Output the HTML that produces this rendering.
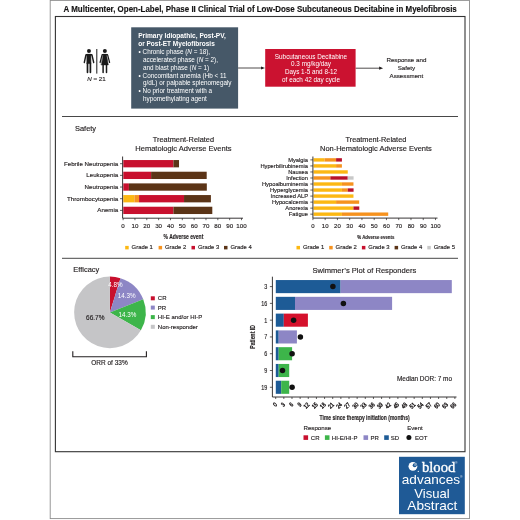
<!DOCTYPE html>
<html lang="en"><head><meta charset="utf-8"><title>Visual Abstract</title>
<style>
html,body{margin:0;padding:0;background:#fff;}
body{width:520px;height:520px;overflow:hidden;font-family:"Liberation Sans",sans-serif;}
svg{display:block;font-family:"Liberation Sans",sans-serif;fill:#231f20;}
.w{fill:#fff;stroke:none}
text{stroke:#231f20;stroke-width:.15px}
.c{text-anchor:middle}
.e{text-anchor:end}
.ser{font-family:"Liberation Serif",serif}
</style></head><body>
<svg width="520" height="520" viewBox="0 0 520 520">
<rect width="520" height="520" fill="#fff"/>

<rect x="50.2" y="0.4" width="419.3" height="518.2" fill="none" stroke="#8c8c8c" stroke-width="0.9"/>
<text x="63.6" y="12.0" font-size="8.5" textLength="393.2" lengthAdjust="spacingAndGlyphs" font-weight="bold" fill="#111">A Multicenter, Open-Label, Phase II Clinical Trial of Low-Dose Subcutaneous Decitabine in Myelofibrosis</text>
<rect x="55.400" y="16.500" width="409.600" height="435.200" fill="none" stroke="#333" stroke-width="1.100"/>
<line x1="62" y1="116.500" x2="458" y2="116.500" stroke="#333" stroke-width="0.900"/>
<line x1="62" y1="258.300" x2="458" y2="258.300" stroke="#333" stroke-width="0.900"/>
<g fill="#1a1a1a" stroke="#1a1a1a" stroke-linecap="round" stroke-linejoin="round">
<circle cx="88.950" cy="50.900" r="2" stroke="none"/>
<path d="M87 54.300h3.900v9.300h-3.900z" stroke-width="0.500"/>
<path d="M86.200 54.700h5.500" stroke-width="1.400" fill="none"/>
<path d="M87.500 63v9.300M90.400 63v9.300" stroke-width="1.700" fill="none"/>
<path d="M85.900 55.200L84.300 62.500M92 55.200L93.700 62.500" stroke-width="1.400" fill="none"/>
<rect x="96.300" y="49" width="1" height="24.600" stroke="none"/>
<circle cx="104.850" cy="50.900" r="2" stroke="none"/>
<path d="M103.300 54.300h3.100l1.900 10.600h-6.900z" stroke-width="0.500"/>
<path d="M102.300 54.700h5.100" stroke-width="1.300" fill="none"/>
<path d="M103.100 65v7.400M106.500 65v7.400" stroke-width="1.500" fill="none"/>
<path d="M102 55.200L100.100 62.500M107.700 55.200L109.600 62.500" stroke-width="1.200" fill="none"/>
</g>
<text x="96.5" y="81.3" font-size="6.2" class="c"><tspan font-style="italic">N</tspan> = 21</text>
<rect x="131.200" y="27.300" width="106.900" height="81.300" fill="#465868"/>
<text x="138.2" y="38.2" font-size="6.5" class="w" textLength="87.7" lengthAdjust="spacingAndGlyphs" font-weight="bold">Primary Idiopathic, Post-PV,</text>
<text x="138.2" y="46.08" font-size="6.5" class="w" font-weight="bold">or Post-ET Myelofibrosis</text>
<text x="138.6" y="53.95" font-size="6.35" class="w">• Chronic phase (<tspan font-style="italic">N</tspan> = 18),</text>
<text x="143" y="61.83" font-size="6.35" class="w">accelerated phase (<tspan font-style="italic">N</tspan> = 2),</text>
<text x="143" y="69.7" font-size="6.35" class="w">and blast phase (<tspan font-style="italic">N</tspan> = 1)</text>
<text x="138.6" y="77.58" font-size="6.35" class="w">• Concomitant anemia (Hb &lt; 11</text>
<text x="143" y="85.45" font-size="6.35" class="w">g/dL) or palpable splenomegaly</text>
<text x="138.6" y="93.33" font-size="6.35" class="w">• No prior treatment with a</text>
<text x="143" y="101.2" font-size="6.35" class="w">hypomethylating agent</text>
<line x1="238.1" y1="68" x2="263" y2="68" stroke="#231f20" stroke-width="0.800"/>
<path d="M265 68l-4 -1.600v3.200z" fill="#231f20"/>
<line x1="355.5" y1="68.2" x2="381.1" y2="68.2" stroke="#231f20" stroke-width="0.800"/>
<path d="M383.1 68.2l-4 -1.600v3.200z" fill="#231f20"/>
<rect x="265.200" y="49" width="90.400" height="37.700" fill="#cb1230"/>
<text x="311" y="58.7" font-size="6.35" class="w c">Subcutaneous Decitabine</text>
<text x="311" y="66.4" font-size="6.35" class="w c">0.3 mg/kg/day</text>
<text x="311" y="74.1" font-size="6.35" class="w c">Days 1-5 and 8-12</text>
<text x="311" y="81.8" font-size="6.35" class="w c">of each 42 day cycle</text>
<text x="406.4" y="62.2" font-size="6.2" class="c">Response and</text>
<text x="406.4" y="70.1" font-size="6.2" class="c">Safety</text>
<text x="406.4" y="78.0" font-size="6.2" class="c">Assessment</text>
<text x="75" y="131" font-size="7.45">Safety</text>
<text x="183.4" y="141.9" font-size="7.45" class="c" textLength="61.2" lengthAdjust="spacingAndGlyphs">Treatment-Related</text>
<text x="183.4" y="151" font-size="7.45" class="c" textLength="96.2" lengthAdjust="spacingAndGlyphs">Hematologic Adverse Events</text>
<text x="118.3" y="165.7" font-size="6.2" class="e">Febrile Neutropenia</text>
<line x1="120" y1="163.70" x2="122.500" y2="163.70" stroke="#231f20" stroke-width="0.700"/>
<rect x="123.30" y="160.05" width="50.11" height="7.3" fill="#c8102e"/>
<rect x="173.41" y="160.05" width="5.61" height="7.3" fill="#5b3417"/>
<text x="118.3" y="177.37" font-size="6.2" class="e">Leukopenia</text>
<line x1="120" y1="175.37" x2="122.500" y2="175.37" stroke="#231f20" stroke-width="0.700"/>
<rect x="123.30" y="171.72" width="27.80" height="7.3" fill="#c8102e"/>
<rect x="151.10" y="171.72" width="55.60" height="7.3" fill="#5b3417"/>
<text x="118.3" y="189.04" font-size="6.2" class="e">Neutropenia</text>
<line x1="120" y1="187.04" x2="122.500" y2="187.04" stroke="#231f20" stroke-width="0.700"/>
<rect x="123.30" y="183.39" width="5.61" height="7.3" fill="#c8102e"/>
<rect x="128.91" y="183.39" width="77.91" height="7.3" fill="#5b3417"/>
<text x="118.3" y="200.71" font-size="6.2" class="e">Thrombocytopenia</text>
<line x1="120" y1="198.71" x2="122.500" y2="198.71" stroke="#231f20" stroke-width="0.700"/>
<rect x="123.30" y="195.06" width="11.10" height="7.3" fill="#fcb813"/>
<rect x="134.40" y="195.06" width="4.67" height="7.3" fill="#f6921e"/>
<rect x="139.07" y="195.06" width="44.97" height="7.3" fill="#c8102e"/>
<rect x="184.04" y="195.06" width="26.86" height="7.3" fill="#5b3417"/>
<text x="118.3" y="212.38" font-size="6.2" class="e">Anemia</text>
<line x1="120" y1="210.38" x2="122.500" y2="210.38" stroke="#231f20" stroke-width="0.700"/>
<rect x="123.30" y="206.73" width="50.11" height="7.3" fill="#c8102e"/>
<rect x="173.41" y="206.73" width="38.89" height="7.3" fill="#5b3417"/>
<path d="M122.600 156.500V218.2H243" fill="none" stroke="#231f20" stroke-width="0.900"/>
<line x1="123.10" y1="218.2" x2="123.10" y2="220.2" stroke="#231f20" stroke-width="0.700"/>
<text x="123.1" y="228.4" font-size="6.2" class="c">0</text>
<line x1="134.94" y1="218.2" x2="134.94" y2="220.2" stroke="#231f20" stroke-width="0.700"/>
<text x="134.94" y="228.4" font-size="6.2" class="c">10</text>
<line x1="146.78" y1="218.2" x2="146.78" y2="220.2" stroke="#231f20" stroke-width="0.700"/>
<text x="146.78" y="228.4" font-size="6.2" class="c">20</text>
<line x1="158.62" y1="218.2" x2="158.62" y2="220.2" stroke="#231f20" stroke-width="0.700"/>
<text x="158.62" y="228.4" font-size="6.2" class="c">30</text>
<line x1="170.46" y1="218.2" x2="170.46" y2="220.2" stroke="#231f20" stroke-width="0.700"/>
<text x="170.46" y="228.4" font-size="6.2" class="c">40</text>
<line x1="182.30" y1="218.2" x2="182.30" y2="220.2" stroke="#231f20" stroke-width="0.700"/>
<text x="182.3" y="228.4" font-size="6.2" class="c">50</text>
<line x1="194.14" y1="218.2" x2="194.14" y2="220.2" stroke="#231f20" stroke-width="0.700"/>
<text x="194.14" y="228.4" font-size="6.2" class="c">60</text>
<line x1="205.98" y1="218.2" x2="205.98" y2="220.2" stroke="#231f20" stroke-width="0.700"/>
<text x="205.98" y="228.4" font-size="6.2" class="c">70</text>
<line x1="217.82" y1="218.2" x2="217.82" y2="220.2" stroke="#231f20" stroke-width="0.700"/>
<text x="217.82" y="228.4" font-size="6.2" class="c">80</text>
<line x1="229.66" y1="218.2" x2="229.66" y2="220.2" stroke="#231f20" stroke-width="0.700"/>
<text x="229.66" y="228.4" font-size="6.2" class="c">90</text>
<line x1="241.50" y1="218.2" x2="241.50" y2="220.2" stroke="#231f20" stroke-width="0.700"/>
<text x="241.5" y="228.4" font-size="6.2" class="c">100</text>
<text x="183.4" y="239.2" font-size="7.2" class="c" textLength="39.8" lengthAdjust="spacingAndGlyphs" font-weight="bold">% Adverse event</text>
<rect x="125.2" y="245.900" width="3.500" height="3.500" fill="#fcb813"/>
<text x="131.6" y="249.3" font-size="5.9">Grade 1</text>
<rect x="158.6" y="245.900" width="3.500" height="3.500" fill="#f6921e"/>
<text x="165.0" y="249.3" font-size="5.9">Grade 2</text>
<rect x="191.5" y="245.900" width="3.500" height="3.500" fill="#c8102e"/>
<text x="197.9" y="249.3" font-size="5.9">Grade 3</text>
<rect x="224" y="245.900" width="3.500" height="3.500" fill="#5b3417"/>
<text x="230.4" y="249.3" font-size="5.9">Grade 4</text>
<text x="375.9" y="141.8" font-size="7.45" class="c" textLength="60.8" lengthAdjust="spacingAndGlyphs">Treatment-Related</text>
<text x="375.9" y="150.6" font-size="7.45" class="c" textLength="111.8" lengthAdjust="spacingAndGlyphs">Non-Hematologic Adverse Events</text>
<text x="308" y="161.8" font-size="5.75" class="e">Myalgia</text>
<line x1="310.300" y1="159.90" x2="312.900" y2="159.90" stroke="#231f20" stroke-width="0.700"/>
<rect x="313.50" y="158.20" width="11.04" height="3.4" fill="#fcb813"/>
<rect x="324.54" y="158.20" width="11.54" height="3.4" fill="#f6921e"/>
<rect x="336.09" y="158.20" width="5.83" height="3.4" fill="#b8102a"/>
<text x="308" y="167.83" font-size="5.75" class="e">Hyperbilirubinemia</text>
<line x1="310.300" y1="165.93" x2="312.900" y2="165.93" stroke="#231f20" stroke-width="0.700"/>
<rect x="313.50" y="164.23" width="22.59" height="3.4" fill="#fcb813"/>
<rect x="336.08" y="164.23" width="5.83" height="3.4" fill="#f6921e"/>
<text x="308" y="173.86" font-size="5.75" class="e">Nausea</text>
<line x1="310.300" y1="171.96" x2="312.900" y2="171.96" stroke="#231f20" stroke-width="0.700"/>
<rect x="313.50" y="170.26" width="34.25" height="3.4" fill="#fcb813"/>
<text x="308" y="179.89" font-size="5.75" class="e">Infection</text>
<line x1="310.300" y1="177.99" x2="312.900" y2="177.99" stroke="#231f20" stroke-width="0.700"/>
<rect x="313.50" y="176.29" width="16.87" height="3.4" fill="#f6921e"/>
<rect x="330.37" y="176.29" width="17.37" height="3.4" fill="#b8102a"/>
<rect x="347.75" y="176.29" width="5.83" height="3.4" fill="#c8c8c8"/>
<text x="308" y="185.92" font-size="5.75" class="e">Hypoalbuminemia</text>
<line x1="310.300" y1="184.02" x2="312.900" y2="184.02" stroke="#231f20" stroke-width="0.700"/>
<rect x="313.50" y="182.32" width="28.42" height="3.4" fill="#fcb813"/>
<rect x="341.92" y="182.32" width="11.54" height="3.4" fill="#f6921e"/>
<text x="308" y="191.95" font-size="5.75" class="e">Hyperglycemia</text>
<line x1="310.300" y1="190.05" x2="312.900" y2="190.05" stroke="#231f20" stroke-width="0.700"/>
<rect x="313.50" y="188.35" width="28.42" height="3.4" fill="#fcb813"/>
<rect x="341.92" y="188.35" width="5.83" height="3.4" fill="#f6921e"/>
<rect x="347.75" y="188.35" width="5.83" height="3.4" fill="#b8102a"/>
<text x="308" y="197.98" font-size="5.75" class="e">Increased ALP</text>
<line x1="310.300" y1="196.08" x2="312.900" y2="196.08" stroke="#231f20" stroke-width="0.700"/>
<rect x="313.50" y="194.38" width="39.96" height="3.4" fill="#fcb813"/>
<text x="308" y="204.01" font-size="5.75" class="e">Hypocalcemia</text>
<line x1="310.300" y1="202.11" x2="312.900" y2="202.11" stroke="#231f20" stroke-width="0.700"/>
<rect x="313.50" y="200.41" width="22.59" height="3.4" fill="#fcb813"/>
<rect x="336.08" y="200.41" width="23.09" height="3.4" fill="#f6921e"/>
<text x="308" y="210.04" font-size="5.75" class="e">Anorexia</text>
<line x1="310.300" y1="208.14" x2="312.900" y2="208.14" stroke="#231f20" stroke-width="0.700"/>
<rect x="313.50" y="206.44" width="39.96" height="3.4" fill="#fcb813"/>
<rect x="353.46" y="206.44" width="5.83" height="3.4" fill="#b8102a"/>
<text x="308" y="216.07" font-size="5.75" class="e">Fatigue</text>
<line x1="310.300" y1="214.17" x2="312.900" y2="214.17" stroke="#231f20" stroke-width="0.700"/>
<rect x="313.50" y="212.47" width="28.42" height="3.4" fill="#fcb813"/>
<rect x="341.92" y="212.47" width="46.29" height="3.4" fill="#f6921e"/>
<path d="M312.900 156.500V218.1H437.500" fill="none" stroke="#231f20" stroke-width="0.900"/>
<line x1="312.90" y1="218.1" x2="312.90" y2="220.1" stroke="#231f20" stroke-width="0.700"/>
<text x="312.9" y="228.4" font-size="6.0" class="c">0</text>
<line x1="325.16" y1="218.1" x2="325.16" y2="220.1" stroke="#231f20" stroke-width="0.700"/>
<text x="325.16" y="228.4" font-size="6.0" class="c">10</text>
<line x1="337.42" y1="218.1" x2="337.42" y2="220.1" stroke="#231f20" stroke-width="0.700"/>
<text x="337.42" y="228.4" font-size="6.0" class="c">20</text>
<line x1="349.68" y1="218.1" x2="349.68" y2="220.1" stroke="#231f20" stroke-width="0.700"/>
<text x="349.68" y="228.4" font-size="6.0" class="c">30</text>
<line x1="361.94" y1="218.1" x2="361.94" y2="220.1" stroke="#231f20" stroke-width="0.700"/>
<text x="361.94" y="228.4" font-size="6.0" class="c">40</text>
<line x1="374.20" y1="218.1" x2="374.20" y2="220.1" stroke="#231f20" stroke-width="0.700"/>
<text x="374.2" y="228.4" font-size="6.0" class="c">50</text>
<line x1="386.46" y1="218.1" x2="386.46" y2="220.1" stroke="#231f20" stroke-width="0.700"/>
<text x="386.46" y="228.4" font-size="6.0" class="c">60</text>
<line x1="398.72" y1="218.1" x2="398.72" y2="220.1" stroke="#231f20" stroke-width="0.700"/>
<text x="398.72" y="228.4" font-size="6.0" class="c">70</text>
<line x1="410.98" y1="218.1" x2="410.98" y2="220.1" stroke="#231f20" stroke-width="0.700"/>
<text x="410.98" y="228.4" font-size="6.0" class="c">80</text>
<line x1="423.24" y1="218.1" x2="423.24" y2="220.1" stroke="#231f20" stroke-width="0.700"/>
<text x="423.24" y="228.4" font-size="6.0" class="c">90</text>
<line x1="435.50" y1="218.1" x2="435.50" y2="220.1" stroke="#231f20" stroke-width="0.700"/>
<text x="435.5" y="228.4" font-size="6.0" class="c">100</text>
<text x="375.8" y="238.6" font-size="6" class="c" textLength="37.1" lengthAdjust="spacingAndGlyphs" font-weight="bold">% Adverse events</text>
<rect x="296.5" y="245.900" width="3.500" height="3.500" fill="#fcb813"/>
<text x="302.9" y="249.3" font-size="5.9">Grade 1</text>
<rect x="329.2" y="245.900" width="3.500" height="3.500" fill="#f6921e"/>
<text x="335.6" y="249.3" font-size="5.9">Grade 2</text>
<rect x="361.9" y="245.900" width="3.500" height="3.500" fill="#c8102e"/>
<text x="368.3" y="249.3" font-size="5.9">Grade 3</text>
<rect x="394.6" y="245.900" width="3.500" height="3.500" fill="#5b3417"/>
<text x="401.0" y="249.3" font-size="5.9">Grade 4</text>
<rect x="427.3" y="245.900" width="3.500" height="3.500" fill="#c8c8c8"/>
<text x="433.7" y="249.3" font-size="5.9">Grade 5</text>
<text x="73.3" y="272.1" font-size="7.45">Efficacy</text>
<path d="M109.9 312.4L109.90 276.60A35.8 35.8 0 0 1 120.45 278.19Z" fill="#c8102e"/>
<path d="M109.9 312.4L120.45 278.19A35.8 35.8 0 0 1 143.23 299.32Z" fill="#8d86c5"/>
<path d="M109.9 312.4L143.23 299.32A35.8 35.8 0 0 1 140.90 330.30Z" fill="#3db54a"/>
<path d="M109.9 312.4L140.90 330.30A35.8 35.8 0 1 1 109.90 276.60Z" fill="#c5c5c7"/>
<text x="115.4" y="286.9" font-size="6.3" class="w c">4.8%</text>
<text x="126.8" y="297.8" font-size="6.3" class="w c">14.3%</text>
<text x="127.5" y="317.3" font-size="6.3" class="w c">14.3%</text>
<text x="95.3" y="320.4" font-size="6.5" class="c">66.7%</text>
<rect x="150.800" y="296.30" width="4" height="4" fill="#c8102e"/>
<text x="157.8" y="300.4" font-size="6.0">CR</text>
<rect x="150.800" y="305.60" width="4" height="4" fill="#8d86c5"/>
<text x="157.8" y="309.7" font-size="6.0">PR</text>
<rect x="150.800" y="315.10" width="4" height="4" fill="#3db54a"/>
<text x="157.8" y="319.2" font-size="6.0">HI-E and/or HI-P</text>
<rect x="150.800" y="324.80" width="4" height="4" fill="#c5c5c7"/>
<text x="157.8" y="328.9" font-size="6.0">Non-responder</text>
<path d="M72.800 351.200V356.800H146.400V351.200" fill="none" stroke="#231f20" stroke-width="1.100"/>
<text x="109.5" y="365.2" font-size="6.5" class="c" textLength="36.4" lengthAdjust="spacingAndGlyphs">ORR of 33%</text>
<text x="312.5" y="272.5" font-size="7.45" textLength="103.8" lengthAdjust="spacingAndGlyphs">Swimmer’s Plot of Responders</text>
<path d="M272.4 276.700V397H456.500" fill="none" stroke="#231f20" stroke-width="0.900"/>
<text x="267.2" y="289.0" font-size="6.8" class="e" textLength="3.03" lengthAdjust="spacingAndGlyphs">3</text>
<line x1="269.900" y1="286.60" x2="272.4" y2="286.60" stroke="#231f20" stroke-width="0.700"/>
<rect x="275.80" y="280.05" width="64.80" height="13.1" fill="#1d5b96"/>
<rect x="340.60" y="280.05" width="111.20" height="13.1" fill="#8d86c5"/>
<circle cx="332.90" cy="286.60" r="2.750" fill="#111"/>
<text x="267.2" y="305.78" font-size="6.8" class="e" textLength="6.05" lengthAdjust="spacingAndGlyphs">16</text>
<line x1="269.900" y1="303.38" x2="272.4" y2="303.38" stroke="#231f20" stroke-width="0.700"/>
<rect x="275.80" y="296.83" width="19.20" height="13.1" fill="#1d5b96"/>
<rect x="295.00" y="296.83" width="97.10" height="13.1" fill="#8d86c5"/>
<circle cx="343.40" cy="303.38" r="2.750" fill="#111"/>
<text x="267.2" y="322.56" font-size="6.8" class="e" textLength="3.03" lengthAdjust="spacingAndGlyphs">1</text>
<line x1="269.900" y1="320.16" x2="272.4" y2="320.16" stroke="#231f20" stroke-width="0.700"/>
<rect x="275.80" y="313.61" width="8.00" height="13.1" fill="#1d5b96"/>
<rect x="283.80" y="313.61" width="24.10" height="13.1" fill="#d5112c"/>
<circle cx="293.60" cy="320.16" r="2.750" fill="#111"/>
<text x="267.2" y="339.34" font-size="6.8" class="e" textLength="3.03" lengthAdjust="spacingAndGlyphs">7</text>
<line x1="269.900" y1="336.94" x2="272.4" y2="336.94" stroke="#231f20" stroke-width="0.700"/>
<rect x="275.80" y="330.39" width="2.90" height="13.1" fill="#1d5b96"/>
<rect x="278.70" y="330.39" width="18.20" height="13.1" fill="#8d86c5"/>
<circle cx="300.40" cy="336.94" r="2.750" fill="#111"/>
<text x="267.2" y="356.12" font-size="6.8" class="e" textLength="3.03" lengthAdjust="spacingAndGlyphs">6</text>
<line x1="269.900" y1="353.72" x2="272.4" y2="353.72" stroke="#231f20" stroke-width="0.700"/>
<rect x="275.80" y="347.17" width="2.90" height="13.1" fill="#1d5b96"/>
<rect x="278.70" y="347.17" width="13.40" height="13.1" fill="#3db54a"/>
<circle cx="292.10" cy="353.72" r="2.750" fill="#111"/>
<text x="267.2" y="372.9" font-size="6.8" class="e" textLength="3.03" lengthAdjust="spacingAndGlyphs">9</text>
<line x1="269.900" y1="370.50" x2="272.4" y2="370.50" stroke="#231f20" stroke-width="0.700"/>
<rect x="275.80" y="363.95" width="2.90" height="13.1" fill="#1d5b96"/>
<rect x="278.70" y="363.95" width="10.50" height="13.1" fill="#3db54a"/>
<circle cx="282.50" cy="370.50" r="2.750" fill="#111"/>
<text x="267.2" y="389.68" font-size="6.8" class="e" textLength="6.05" lengthAdjust="spacingAndGlyphs">19</text>
<line x1="269.900" y1="387.28" x2="272.4" y2="387.28" stroke="#231f20" stroke-width="0.700"/>
<rect x="275.80" y="380.73" width="5.40" height="13.1" fill="#1d5b96"/>
<rect x="281.20" y="380.73" width="8.00" height="13.1" fill="#3db54a"/>
<circle cx="292.10" cy="387.28" r="2.750" fill="#111"/>
<line x1="275.70" y1="397" x2="275.70" y2="399" stroke="#231f20" stroke-width="0.700"/>
<text transform="translate(277.40 405) rotate(-45)" font-size="6.200" class="e" textLength="2.76" lengthAdjust="spacingAndGlyphs" style="stroke-width:.4px">0</text>
<line x1="283.84" y1="397" x2="283.84" y2="399" stroke="#231f20" stroke-width="0.700"/>
<text transform="translate(285.54 405) rotate(-45)" font-size="6.200" class="e" textLength="2.76" lengthAdjust="spacingAndGlyphs" style="stroke-width:.4px">3</text>
<line x1="291.99" y1="397" x2="291.99" y2="399" stroke="#231f20" stroke-width="0.700"/>
<text transform="translate(293.69 405) rotate(-45)" font-size="6.200" class="e" textLength="2.76" lengthAdjust="spacingAndGlyphs" style="stroke-width:.4px">6</text>
<line x1="300.13" y1="397" x2="300.13" y2="399" stroke="#231f20" stroke-width="0.700"/>
<text transform="translate(301.83 405) rotate(-45)" font-size="6.200" class="e" textLength="2.76" lengthAdjust="spacingAndGlyphs" style="stroke-width:.4px">9</text>
<line x1="308.28" y1="397" x2="308.28" y2="399" stroke="#231f20" stroke-width="0.700"/>
<text transform="translate(309.98 405) rotate(-45)" font-size="6.200" class="e" textLength="5.52" lengthAdjust="spacingAndGlyphs" style="stroke-width:.4px">12</text>
<line x1="316.42" y1="397" x2="316.42" y2="399" stroke="#231f20" stroke-width="0.700"/>
<text transform="translate(318.12 405) rotate(-45)" font-size="6.200" class="e" textLength="5.52" lengthAdjust="spacingAndGlyphs" style="stroke-width:.4px">15</text>
<line x1="324.57" y1="397" x2="324.57" y2="399" stroke="#231f20" stroke-width="0.700"/>
<text transform="translate(326.27 405) rotate(-45)" font-size="6.200" class="e" textLength="5.52" lengthAdjust="spacingAndGlyphs" style="stroke-width:.4px">18</text>
<line x1="332.71" y1="397" x2="332.71" y2="399" stroke="#231f20" stroke-width="0.700"/>
<text transform="translate(334.41 405) rotate(-45)" font-size="6.200" class="e" textLength="5.52" lengthAdjust="spacingAndGlyphs" style="stroke-width:.4px">21</text>
<line x1="340.86" y1="397" x2="340.86" y2="399" stroke="#231f20" stroke-width="0.700"/>
<text transform="translate(342.56 405) rotate(-45)" font-size="6.200" class="e" textLength="5.52" lengthAdjust="spacingAndGlyphs" style="stroke-width:.4px">24</text>
<line x1="349.00" y1="397" x2="349.00" y2="399" stroke="#231f20" stroke-width="0.700"/>
<text transform="translate(350.70 405) rotate(-45)" font-size="6.200" class="e" textLength="5.52" lengthAdjust="spacingAndGlyphs" style="stroke-width:.4px">27</text>
<line x1="357.15" y1="397" x2="357.15" y2="399" stroke="#231f20" stroke-width="0.700"/>
<text transform="translate(358.85 405) rotate(-45)" font-size="6.200" class="e" textLength="5.52" lengthAdjust="spacingAndGlyphs" style="stroke-width:.4px">30</text>
<line x1="365.29" y1="397" x2="365.29" y2="399" stroke="#231f20" stroke-width="0.700"/>
<text transform="translate(366.99 405) rotate(-45)" font-size="6.200" class="e" textLength="5.52" lengthAdjust="spacingAndGlyphs" style="stroke-width:.4px">33</text>
<line x1="373.44" y1="397" x2="373.44" y2="399" stroke="#231f20" stroke-width="0.700"/>
<text transform="translate(375.14 405) rotate(-45)" font-size="6.200" class="e" textLength="5.52" lengthAdjust="spacingAndGlyphs" style="stroke-width:.4px">36</text>
<line x1="381.58" y1="397" x2="381.58" y2="399" stroke="#231f20" stroke-width="0.700"/>
<text transform="translate(383.28 405) rotate(-45)" font-size="6.200" class="e" textLength="5.52" lengthAdjust="spacingAndGlyphs" style="stroke-width:.4px">39</text>
<line x1="389.73" y1="397" x2="389.73" y2="399" stroke="#231f20" stroke-width="0.700"/>
<text transform="translate(391.43 405) rotate(-45)" font-size="6.200" class="e" textLength="5.52" lengthAdjust="spacingAndGlyphs" style="stroke-width:.4px">42</text>
<line x1="397.88" y1="397" x2="397.88" y2="399" stroke="#231f20" stroke-width="0.700"/>
<text transform="translate(399.57 405) rotate(-45)" font-size="6.200" class="e" textLength="5.52" lengthAdjust="spacingAndGlyphs" style="stroke-width:.4px">45</text>
<line x1="406.02" y1="397" x2="406.02" y2="399" stroke="#231f20" stroke-width="0.700"/>
<text transform="translate(407.72 405) rotate(-45)" font-size="6.200" class="e" textLength="5.52" lengthAdjust="spacingAndGlyphs" style="stroke-width:.4px">48</text>
<line x1="414.16" y1="397" x2="414.16" y2="399" stroke="#231f20" stroke-width="0.700"/>
<text transform="translate(415.86 405) rotate(-45)" font-size="6.200" class="e" textLength="5.52" lengthAdjust="spacingAndGlyphs" style="stroke-width:.4px">51</text>
<line x1="422.31" y1="397" x2="422.31" y2="399" stroke="#231f20" stroke-width="0.700"/>
<text transform="translate(424.01 405) rotate(-45)" font-size="6.200" class="e" textLength="5.52" lengthAdjust="spacingAndGlyphs" style="stroke-width:.4px">54</text>
<line x1="430.45" y1="397" x2="430.45" y2="399" stroke="#231f20" stroke-width="0.700"/>
<text transform="translate(432.15 405) rotate(-45)" font-size="6.200" class="e" textLength="5.52" lengthAdjust="spacingAndGlyphs" style="stroke-width:.4px">57</text>
<line x1="438.60" y1="397" x2="438.60" y2="399" stroke="#231f20" stroke-width="0.700"/>
<text transform="translate(440.30 405) rotate(-45)" font-size="6.200" class="e" textLength="5.52" lengthAdjust="spacingAndGlyphs" style="stroke-width:.4px">60</text>
<line x1="446.75" y1="397" x2="446.75" y2="399" stroke="#231f20" stroke-width="0.700"/>
<text transform="translate(448.44 405) rotate(-45)" font-size="6.200" class="e" textLength="5.52" lengthAdjust="spacingAndGlyphs" style="stroke-width:.4px">63</text>
<line x1="454.89" y1="397" x2="454.89" y2="399" stroke="#231f20" stroke-width="0.700"/>
<text transform="translate(456.59 405) rotate(-45)" font-size="6.200" class="e" textLength="5.52" lengthAdjust="spacingAndGlyphs" style="stroke-width:.4px">66</text>
<text transform="translate(254.900 336.900) rotate(-90)" font-size="7.300" class="c" textLength="23.500" lengthAdjust="spacingAndGlyphs" font-weight="bold">Patient ID</text>
<text x="364.6" y="420.1" font-size="7" class="c" textLength="90" lengthAdjust="spacingAndGlyphs" font-weight="bold">Time since therapy initiation (months)</text>
<text x="424.5" y="381" font-size="6.3" class="c" textLength="55.1" lengthAdjust="spacingAndGlyphs">Median DOR: 7 mo</text>
<text x="303.5" y="430" font-size="6.0" textLength="27.7" lengthAdjust="spacingAndGlyphs">Response</text>
<text x="407.3" y="430" font-size="6.0">Event</text>
<rect x="303.5" y="435.300" width="4.600" height="4.600" fill="#c8102e"/>
<text x="310.8" y="439.7" font-size="6.0">CR</text>
<rect x="324.9" y="435.300" width="4.600" height="4.600" fill="#3db54a"/>
<text x="331.8" y="439.7" font-size="6.0">HI-E/HI-P</text>
<rect x="363.5" y="435.300" width="4.600" height="4.600" fill="#8d86c5"/>
<text x="370.4" y="439.7" font-size="6.0">PR</text>
<rect x="384.2" y="435.300" width="4.600" height="4.600" fill="#1d5b96"/>
<text x="390.7" y="439.7" font-size="6.0">SD</text>
<circle cx="408.900" cy="437.600" r="2.500" fill="#111"/>
<text x="415" y="439.7" font-size="6.0">EOT</text>
<rect x="399" y="456.800" width="65.800" height="57.400" fill="#1f5a96"/>
<circle cx="412.900" cy="466.300" r="4.400" fill="#fff"/>
<circle cx="414.700" cy="465.300" r="2" fill="#1f5a96"/>
<circle cx="415.100" cy="464.900" r="0.900" fill="#fff" opacity=".55"/>
<circle cx="418.300" cy="471.400" r="0.600" fill="#fff"/>
<text x="421.9" y="472" font-size="15.4" class="w ser" textLength="33.4" lengthAdjust="spacingAndGlyphs" style="stroke:#fff;stroke-width:.35px">blood</text>
<text x="455.2" y="464.2" font-size="3" class="w">®</text>
<text x="460.3" y="477.5" font-size="3" class="w">®</text>
<text x="401.8" y="483.5" font-size="13.2" class="w" textLength="58.2" lengthAdjust="spacingAndGlyphs">advances</text>
<text x="414.3" y="497.9" font-size="13.1" class="w" textLength="35.4" lengthAdjust="spacingAndGlyphs">Visual</text>
<text x="407.3" y="510.3" font-size="13.1" class="w" textLength="50.1" lengthAdjust="spacingAndGlyphs">Abstract</text>
</svg></body></html>
